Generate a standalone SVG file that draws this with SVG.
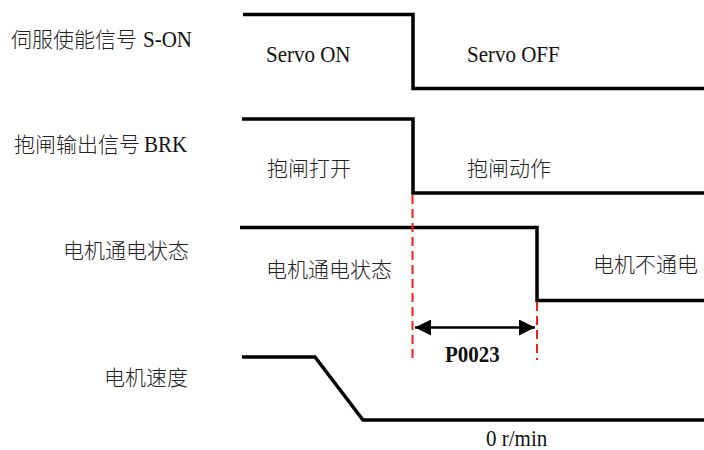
<svg xmlns="http://www.w3.org/2000/svg" width="704" height="450" viewBox="0 0 704 450">
<defs>
<style>
.t{font-family:"Noto Sans CJK SC",sans-serif;font-size:21px;font-weight:300;fill:#222}
.l{font-family:"Liberation Serif","Times New Roman",serif;font-size:21px;font-weight:normal;fill:#111}
.b{font-weight:bold;fill:#111}
.sig{fill:none;stroke:#000;stroke-width:3.5;stroke-linejoin:miter}
.red{fill:none;stroke:#ff1a1a;stroke-width:2;stroke-dasharray:9,5}
.dim{fill:none;stroke:#000;stroke-width:2.5}
</style>
<marker id="ah" markerWidth="16" markerHeight="16" refX="16" refY="8" orient="auto-start-reverse" markerUnits="userSpaceOnUse">
<path d="M0,0 L16,8 L0,16 Z" fill="#000"/>
</marker>
</defs>
<rect width="704" height="450" fill="#fff"/>
<g id="labels">
<text class="t" x="11" y="47">伺服使能信号</text>
<text class="l" transform="translate(143,47) scale(1,1.1)">S-ON</text>
<text class="t" x="14" y="152">抱闸输出信号</text>
<text class="l" transform="translate(144,152) scale(1,1.1)">BRK</text>
<text class="t" x="63" y="258">电机通电状态</text>
<text class="t" x="104" y="385">电机速度</text>
</g>
<g id="son">
<path class="sig" d="M243,14.5 H413 V88.5 H704"/>
<text class="l" transform="translate(266,62) scale(1,1.1)">Servo ON</text>
<text class="l" transform="translate(467,62) scale(1,1.1)">Servo OFF</text>
</g>
<g id="brk">
<path class="sig" d="M242,119 H413 V193 H704"/>
<text class="t" x="267" y="176">抱闸打开</text>
<text class="t" x="467" y="176">抱闸动作</text>
</g>
<g id="power">
<path class="sig" d="M240,227.5 H537 V300.5 H704"/>
<text class="t" x="266" y="277">电机通电状态</text>
<text class="t" x="593" y="272">电机不通电</text>
</g>
<g id="speed">
<path class="sig" d="M242,357 H315 L363,420 H704"/>
<text class="l" transform="translate(486,446) scale(1,1.1)">0 r/min</text>
</g>
<g id="connectors">
<line class="red" x1="412.5" y1="195" x2="412.5" y2="358"/>
<line class="red" x1="537" y1="302" x2="537" y2="360"/>
<line class="dim" x1="415" y1="327.5" x2="535" y2="327.5" marker-start="url(#ah)" marker-end="url(#ah)"/>
<text class="l b" transform="translate(445,362) scale(1,1.1)">P0023</text>
</g>
</svg>
